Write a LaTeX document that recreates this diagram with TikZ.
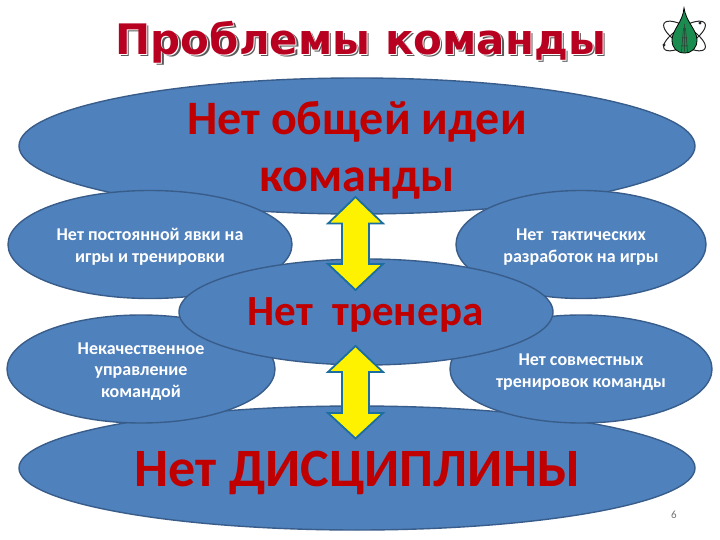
\documentclass[tikz,border=0pt]{standalone}
\usepackage{fontspec}
\setmainfont{Carlito}
\newfontfamily\titlefont{DejaVu Sans}
\usetikzlibrary{shapes.geometric}
\definecolor{ellfill}{HTML}{4F81BD}
\definecolor{ellline}{HTML}{385D8A}
\definecolor{redtxt}{HTML}{C00000}
\definecolor{titlered}{HTML}{B80020}
\definecolor{logogreen}{HTML}{1B8C50}
\definecolor{arrowline}{HTML}{1B6EA0}
\newcommand{\layeredtitle}[1]{%
  \rlap{\kern2.2pt\raisebox{-2.2pt}{\textcolor{black!65}{#1}}}%
  \rlap{\kern1pt\raisebox{-1pt}{\textcolor{white}{#1}}}%
  \textcolor{titlered}{#1}}
\tikzset{
  blob/.style={draw=ellline,line width=1.4pt,fill=ellfill},
  small/.style={text=white,font=\fontsize{18}{21.5}\selectfont\bfseries,align=center},
  big/.style={text=redtxt,font=\fontsize{48}{57}\selectfont\bfseries,align=center},
  arrowshape/.style={draw=arrowline,line width=1.8pt,fill=yellow,line join=miter}
}
\begin{document}
\begin{tikzpicture}[x=1pt,y=-1pt]
\useasboundingbox (0,0) rectangle (720,540);
\fill[white] (0,0) rectangle (720,540);
% top and bottom
\draw[blob] (357,146) ellipse [x radius=338,y radius=68];
\draw[blob] (357,468) ellipse [x radius=338,y radius=62];
% side
\draw[blob] (150,244.5) ellipse [x radius=142,y radius=54];
\draw[blob] (141,369) ellipse [x radius=134,y radius=54];
\draw[blob] (581,244.5) ellipse [x radius=125,y radius=54];
\draw[blob] (581,369) ellipse [x radius=131,y radius=54];
% centre
\draw[blob] (366,312) ellipse [x radius=187,y radius=53];
% upper arrow
\draw[arrowshape] (355.5,197) -- (383,223.5) -- (369,223.5) -- (369,264) -- (383,264) -- (355.5,290) -- (328,264) -- (342,264) -- (342,223.5) -- (328,223.5) -- cycle;
% lower arrow
\draw[arrowshape] (355.5,346) -- (383,372) -- (369,372) -- (369,413) -- (383,413) -- (355.5,438.5) -- (328,413) -- (342,413) -- (342,372) -- (328,372) -- cycle;
% texts
\node[big] (t1) at (357,150) {Нет общей идеи\\команды};
\node[big,font=\fontsize{43}{48}\selectfont\bfseries] (t2) at (365.5,315) {Нет\ \ тренера};
\node[big,font=\fontsize{54}{60}\selectfont\bfseries] (t3) at (357.5,473) {Нет ДИСЦИПЛИНЫ};
\node[small] (s1) at (150,247) {Нет постоянной явки на\\игры и тренировки};
\node[small] (s2) at (141,371.5) {Некачественное\\управление\\командой};
\node[small] (s3) at (581,247) {Нет\ \ тактических\\разработок на игры};
\node[small] (s4) at (581,372) {Нет совместных\\тренировок команды};
\node[text=black!55,font=\fontsize{11}{13}\selectfont] (pg) at (674,515) {6};
% title
\node[font=\titlefont\fontsize{42}{48}\selectfont\bfseries] (tt) at (361,43) {\layeredtitle{Проблемы команды}};
% logo
\draw[black!85,line width=1pt,rotate around={32:(684.5,36)}] (684.5,36) ellipse [x radius=24,y radius=9];
\draw[black!85,line width=1pt,rotate around={-32:(684.5,36)}] (684.5,36) ellipse [x radius=24,y radius=9];
\fill[black!85] (664,45) circle (1.6) (700,23) circle (1.6);
\draw[black,line width=.8pt,fill=logogreen] (684,8) .. controls (683,22) and (672,30) .. (672,40) .. controls (672,48) and (677,53) .. (684.5,53) .. controls (692,53) and (697,48) .. (697,40) .. controls (697,30) and (686,22) .. (684,8) -- cycle;
\draw[black!80,line width=.5pt] (684.5,24) -- (684.5,52) (681.5,52) -- (683.5,28) (687.5,52) -- (685.5,28) (682,38) -- (687,38) (681,46) -- (688,46);
\end{tikzpicture}
\end{document}
